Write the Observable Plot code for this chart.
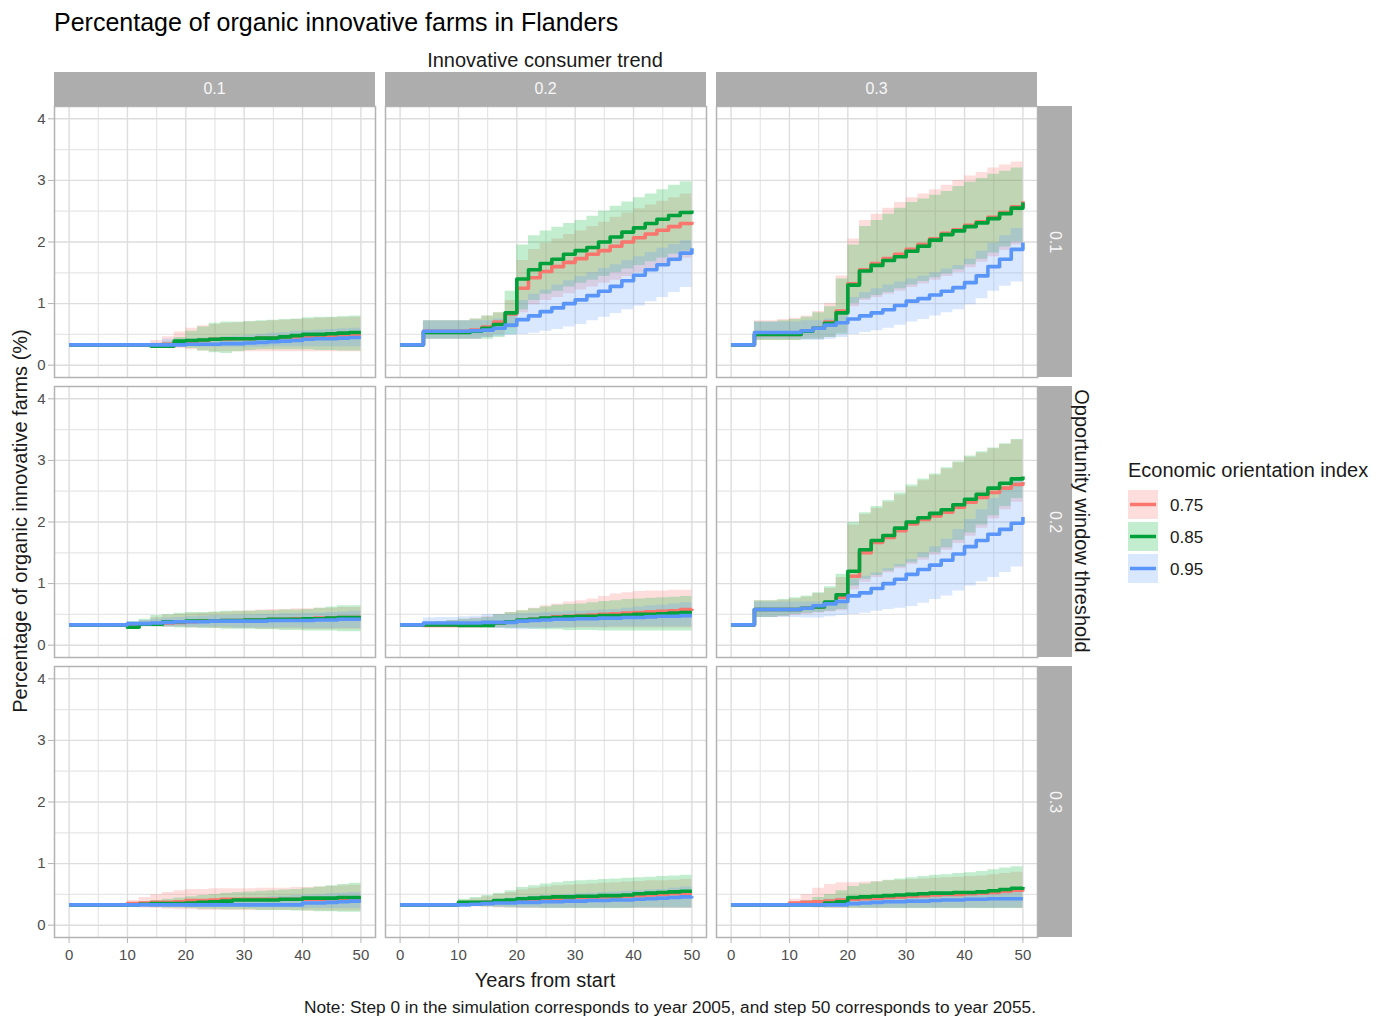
<!DOCTYPE html>
<html><head><meta charset="utf-8">
<script src="https://cdn.jsdelivr.net/npm/d3@7"></script>
<script src="https://cdn.jsdelivr.net/npm/@observablehq/plot@0.6"></script>
<style>
body{margin:0;background:#fff;font-family:"Liberation Sans",Arial,sans-serif;}
#chart{position:relative;width:1390px;height:1021px;overflow:hidden;background:#fff;}
.t{position:absolute;white-space:nowrap;line-height:1;}
.cc{transform:translate(-50%,-50%);}
.lc{transform:translateY(-50%);}
.strip{position:absolute;background:#ADADAD;color:#f7f7f7;font-size:16px;display:flex;align-items:center;justify-content:center;}
.panel{position:absolute;}
</style></head><body><div id="chart"></div>
<script>
// ---------------- data ----------------
const years = [0,2,4,6,8,10,12,14,16,18,20,22,24,26,28,30,32,34,36,38,40,42,44,46,48,50];
const trends = ["0.1","0.2","0.3"];          // Innovative consumer trend (columns)
const thresholds = ["0.1","0.2","0.3"];      // Opportunity window threshold (rows)
const indices = ["0.75","0.85","0.95"];      // Economic orientation index
const lineColors = ["#F8766D","#00A03A","#5A96FA"];
const ribbonColors = ["#F8766D","#00BA38","#619CFF"];
const xTicks = [0,10,20,30,40,50];
const xMinor = [5,15,25,35,45];
const yTicks = [0,1,2,3,4];
const yMinor = [0.5,1.5,2.5,3.5];

// row 1 (threshold 0.1)
const mid_r1c1 = [
 [0.33,0.33,0.33,0.33,0.33,0.33,0.33,0.33,0.34,0.36,0.38,0.40,0.42,0.42,0.43,0.43,0.44,0.44,0.45,0.46,0.47,0.47,0.48,0.49,0.50,0.50],
 [0.33,0.33,0.33,0.33,0.33,0.33,0.33,0.31,0.31,0.39,0.40,0.41,0.42,0.43,0.43,0.43,0.44,0.44,0.46,0.48,0.50,0.50,0.51,0.52,0.53,0.53],
 [0.33,0.33,0.33,0.33,0.33,0.33,0.33,0.33,0.33,0.33,0.34,0.34,0.34,0.35,0.35,0.36,0.37,0.38,0.39,0.40,0.42,0.43,0.43,0.44,0.45,0.45]];
const lo_r1c1 = [
 [0.33,0.33,0.33,0.33,0.33,0.33,0.33,0.30,0.29,0.27,0.25,0.23,0.22,0.22,0.22,0.22,0.22,0.22,0.22,0.22,0.22,0.22,0.22,0.22,0.22,0.22],
 [0.33,0.33,0.33,0.33,0.33,0.33,0.33,0.30,0.30,0.30,0.27,0.23,0.20,0.19,0.22,0.24,0.25,0.25,0.25,0.25,0.25,0.24,0.24,0.23,0.23,0.23],
 [0.33,0.33,0.33,0.33,0.33,0.33,0.33,0.33,0.30,0.30,0.30,0.29,0.29,0.29,0.29,0.29,0.29,0.30,0.30,0.30,0.30,0.30,0.30,0.30,0.30,0.30]];
const hi_r1c1 = [
 [0.33,0.33,0.33,0.33,0.33,0.33,0.33,0.40,0.46,0.54,0.60,0.64,0.66,0.68,0.69,0.70,0.71,0.72,0.73,0.74,0.75,0.76,0.77,0.77,0.78,0.78],
 [0.33,0.33,0.33,0.33,0.33,0.33,0.33,0.33,0.38,0.45,0.55,0.62,0.68,0.70,0.70,0.71,0.72,0.73,0.74,0.75,0.77,0.78,0.78,0.79,0.80,0.80],
 [0.33,0.33,0.33,0.33,0.33,0.33,0.33,0.36,0.42,0.42,0.43,0.44,0.45,0.46,0.47,0.48,0.50,0.52,0.53,0.55,0.56,0.57,0.58,0.59,0.60,0.60]];

const mid_r1c2 = [
 [0.33,0.33,0.55,0.55,0.55,0.55,0.57,0.62,0.70,0.83,1.25,1.42,1.52,1.60,1.67,1.73,1.80,1.86,1.93,2.00,2.07,2.13,2.19,2.25,2.30,2.33],
 [0.33,0.33,0.53,0.53,0.53,0.53,0.55,0.60,0.66,0.85,1.40,1.55,1.65,1.72,1.80,1.86,1.91,2.00,2.08,2.16,2.23,2.30,2.37,2.43,2.48,2.51],
 [0.33,0.33,0.55,0.55,0.55,0.55,0.56,0.57,0.60,0.65,0.74,0.80,0.87,0.93,1.00,1.06,1.13,1.20,1.28,1.37,1.46,1.55,1.63,1.72,1.82,1.90]];
const lo_r1c2 = [
 [0.33,0.33,0.42,0.42,0.42,0.42,0.42,0.45,0.50,0.60,0.85,0.98,1.05,1.10,1.16,1.22,1.27,1.33,1.38,1.44,1.50,1.56,1.62,1.68,1.74,1.78],
 [0.33,0.33,0.42,0.42,0.42,0.42,0.42,0.42,0.45,0.50,0.90,1.05,1.15,1.20,1.27,1.33,1.38,1.44,1.50,1.56,1.62,1.68,1.74,1.80,1.85,1.90],
 [0.33,0.33,0.42,0.42,0.42,0.42,0.42,0.45,0.47,0.48,0.50,0.52,0.55,0.58,0.62,0.66,0.72,0.78,0.84,0.90,0.96,1.03,1.10,1.18,1.26,1.34]];
const hi_r1c2 = [
 [0.33,0.33,0.72,0.72,0.72,0.72,0.75,0.80,0.85,1.05,1.70,1.88,1.98,2.05,2.12,2.18,2.25,2.32,2.40,2.47,2.54,2.60,2.66,2.72,2.78,2.82],
 [0.33,0.33,0.72,0.72,0.72,0.72,0.75,0.80,0.85,1.20,1.95,2.10,2.18,2.24,2.30,2.35,2.42,2.50,2.58,2.65,2.72,2.78,2.85,2.92,2.98,3.02],
 [0.33,0.33,0.72,0.72,0.72,0.72,0.72,0.72,0.75,0.85,1.05,1.15,1.22,1.30,1.37,1.44,1.50,1.57,1.63,1.70,1.76,1.83,1.90,1.96,2.02,2.05]];

const mid_r1c3 = [
 [0.33,0.33,0.50,0.50,0.50,0.50,0.55,0.60,0.70,0.88,1.32,1.55,1.65,1.73,1.80,1.88,1.96,2.05,2.14,2.20,2.27,2.33,2.40,2.48,2.57,2.66],
 [0.33,0.33,0.50,0.50,0.50,0.50,0.55,0.60,0.68,0.85,1.30,1.53,1.62,1.70,1.76,1.85,1.93,2.03,2.12,2.18,2.25,2.31,2.38,2.46,2.55,2.64],
 [0.33,0.33,0.53,0.53,0.53,0.53,0.56,0.60,0.65,0.69,0.75,0.80,0.85,0.90,0.97,1.04,1.08,1.14,1.20,1.26,1.34,1.45,1.60,1.72,1.88,1.99]];
const lo_r1c3 = [
 [0.33,0.33,0.40,0.40,0.40,0.40,0.42,0.42,0.45,0.52,0.95,1.05,1.10,1.15,1.20,1.26,1.32,1.38,1.44,1.50,1.58,1.67,1.76,1.86,1.95,2.00],
 [0.33,0.33,0.40,0.40,0.40,0.40,0.42,0.42,0.45,0.50,1.00,1.08,1.13,1.18,1.24,1.30,1.36,1.42,1.48,1.55,1.63,1.72,1.82,1.92,2.00,2.05],
 [0.33,0.33,0.42,0.42,0.42,0.42,0.40,0.40,0.42,0.45,0.50,0.53,0.56,0.60,0.65,0.70,0.74,0.80,0.85,0.90,0.98,1.08,1.20,1.28,1.35,1.39]];
const hi_r1c3 = [
 [0.33,0.33,0.72,0.72,0.74,0.76,0.80,0.87,1.00,1.45,2.05,2.35,2.45,2.55,2.64,2.72,2.78,2.85,2.92,3.00,3.07,3.13,3.20,3.25,3.30,3.33],
 [0.33,0.33,0.70,0.70,0.72,0.74,0.78,0.85,0.95,1.40,1.95,2.25,2.35,2.45,2.55,2.64,2.70,2.76,2.82,2.90,2.97,3.03,3.10,3.15,3.20,3.23],
 [0.33,0.33,0.70,0.70,0.70,0.70,0.72,0.72,0.75,0.80,1.10,1.18,1.24,1.30,1.35,1.40,1.45,1.50,1.56,1.62,1.72,1.85,1.98,2.10,2.22,2.30]];

// row 2 (threshold 0.2)
const mid_r2c1 = [
 [0.33,0.33,0.33,0.33,0.33,0.33,0.34,0.35,0.36,0.37,0.38,0.39,0.39,0.40,0.40,0.41,0.41,0.42,0.42,0.43,0.43,0.44,0.44,0.45,0.45,0.45],
 [0.33,0.33,0.33,0.33,0.33,0.29,0.34,0.34,0.38,0.38,0.39,0.39,0.39,0.40,0.40,0.41,0.41,0.42,0.42,0.42,0.43,0.43,0.44,0.45,0.45,0.45],
 [0.33,0.33,0.33,0.33,0.33,0.35,0.35,0.36,0.37,0.38,0.38,0.38,0.39,0.39,0.39,0.39,0.39,0.40,0.40,0.40,0.40,0.41,0.41,0.42,0.42,0.42]];
const lo_r2c1 = [
 [0.33,0.33,0.33,0.33,0.33,0.30,0.30,0.30,0.29,0.29,0.28,0.28,0.27,0.27,0.27,0.27,0.26,0.26,0.26,0.26,0.25,0.25,0.25,0.25,0.25,0.25],
 [0.33,0.33,0.33,0.33,0.33,0.28,0.30,0.30,0.29,0.28,0.28,0.27,0.27,0.26,0.26,0.26,0.25,0.25,0.24,0.24,0.23,0.23,0.23,0.22,0.22,0.22],
 [0.33,0.33,0.33,0.33,0.33,0.32,0.31,0.30,0.30,0.30,0.29,0.29,0.29,0.29,0.28,0.28,0.28,0.28,0.28,0.28,0.27,0.27,0.27,0.27,0.27,0.27]];
const hi_r2c1 = [
 [0.33,0.33,0.33,0.33,0.33,0.36,0.40,0.45,0.48,0.50,0.51,0.52,0.53,0.54,0.55,0.56,0.57,0.58,0.58,0.59,0.59,0.60,0.60,0.61,0.61,0.61],
 [0.33,0.33,0.33,0.33,0.33,0.38,0.42,0.48,0.50,0.52,0.53,0.53,0.54,0.55,0.55,0.55,0.56,0.56,0.57,0.57,0.58,0.60,0.62,0.64,0.64,0.64],
 [0.33,0.33,0.33,0.33,0.33,0.38,0.40,0.42,0.44,0.45,0.46,0.47,0.48,0.48,0.49,0.49,0.50,0.50,0.51,0.51,0.52,0.52,0.53,0.54,0.55,0.55]];

const mid_r2c2 = [
 [0.33,0.33,0.32,0.32,0.32,0.32,0.32,0.34,0.36,0.38,0.40,0.42,0.44,0.46,0.47,0.48,0.49,0.50,0.51,0.52,0.53,0.54,0.55,0.56,0.58,0.59],
 [0.33,0.33,0.33,0.33,0.33,0.32,0.32,0.32,0.36,0.38,0.41,0.42,0.44,0.45,0.46,0.47,0.47,0.48,0.48,0.49,0.50,0.50,0.51,0.52,0.53,0.53],
 [0.33,0.33,0.36,0.36,0.36,0.36,0.36,0.37,0.37,0.37,0.39,0.40,0.41,0.42,0.42,0.43,0.43,0.44,0.44,0.45,0.45,0.46,0.47,0.47,0.48,0.48]];
const lo_r2c2 = [
 [0.33,0.33,0.30,0.30,0.30,0.30,0.29,0.28,0.28,0.28,0.28,0.28,0.28,0.28,0.28,0.28,0.28,0.28,0.28,0.28,0.28,0.28,0.28,0.28,0.28,0.28],
 [0.33,0.33,0.30,0.30,0.30,0.30,0.29,0.28,0.28,0.27,0.27,0.26,0.25,0.25,0.24,0.24,0.24,0.23,0.23,0.23,0.23,0.23,0.23,0.23,0.23,0.23],
 [0.33,0.33,0.30,0.30,0.30,0.30,0.30,0.29,0.27,0.26,0.25,0.26,0.27,0.28,0.28,0.29,0.29,0.29,0.30,0.30,0.30,0.30,0.30,0.30,0.30,0.30]];
const hi_r2c2 = [
 [0.33,0.33,0.36,0.38,0.40,0.42,0.44,0.46,0.50,0.53,0.56,0.60,0.64,0.67,0.70,0.72,0.75,0.79,0.83,0.85,0.87,0.88,0.88,0.89,0.89,0.89],
 [0.33,0.33,0.36,0.38,0.40,0.42,0.43,0.45,0.50,0.53,0.56,0.59,0.62,0.65,0.66,0.67,0.69,0.71,0.72,0.74,0.75,0.76,0.77,0.78,0.79,0.80],
 [0.33,0.33,0.44,0.45,0.45,0.46,0.47,0.50,0.50,0.50,0.51,0.52,0.53,0.54,0.55,0.55,0.56,0.57,0.58,0.60,0.62,0.64,0.65,0.67,0.69,0.70]];

const mid_r2c3 = [
 [0.33,0.33,0.58,0.58,0.58,0.58,0.60,0.62,0.68,0.78,1.12,1.50,1.67,1.75,1.86,1.97,2.04,2.10,2.16,2.24,2.32,2.40,2.48,2.55,2.61,2.65],
 [0.33,0.33,0.58,0.58,0.58,0.58,0.60,0.62,0.70,0.82,1.20,1.55,1.70,1.78,1.90,2.00,2.07,2.14,2.20,2.28,2.37,2.45,2.55,2.63,2.70,2.74],
 [0.33,0.33,0.58,0.58,0.58,0.58,0.60,0.64,0.67,0.71,0.80,0.85,0.92,1.00,1.07,1.15,1.23,1.30,1.38,1.48,1.60,1.70,1.80,1.88,1.98,2.08]];
const lo_r2c3 = [
 [0.33,0.33,0.45,0.45,0.46,0.48,0.50,0.52,0.54,0.56,0.90,1.02,1.10,1.17,1.24,1.31,1.38,1.46,1.54,1.65,1.77,1.90,2.05,2.20,2.32,2.42],
 [0.33,0.33,0.45,0.45,0.47,0.50,0.52,0.53,0.55,0.58,0.96,1.07,1.13,1.20,1.27,1.34,1.42,1.50,1.58,1.70,1.82,1.95,2.10,2.25,2.38,2.47],
 [0.33,0.33,0.45,0.45,0.45,0.45,0.44,0.44,0.46,0.48,0.50,0.52,0.55,0.58,0.60,0.63,0.68,0.74,0.80,0.88,0.96,1.03,1.10,1.18,1.27,1.36]];
const hi_r2c3 = [
 [0.33,0.33,0.72,0.72,0.73,0.75,0.78,0.84,0.92,1.10,1.95,2.12,2.22,2.32,2.44,2.57,2.67,2.76,2.86,2.96,3.05,3.12,3.19,3.26,3.33,3.38],
 [0.33,0.33,0.72,0.72,0.74,0.77,0.80,0.85,0.95,1.15,1.99,2.15,2.25,2.35,2.47,2.60,2.70,2.78,2.88,2.98,3.07,3.14,3.20,3.27,3.34,3.39],
 [0.33,0.33,0.70,0.70,0.70,0.70,0.70,0.70,0.72,0.80,1.07,1.12,1.17,1.24,1.31,1.39,1.50,1.60,1.72,1.88,2.04,2.20,2.38,2.55,2.72,2.85]];

// row 3 (threshold 0.3)
const mid_r3c1 = [
 [0.33,0.33,0.33,0.33,0.33,0.35,0.36,0.37,0.37,0.38,0.40,0.40,0.41,0.42,0.42,0.42,0.42,0.42,0.42,0.42,0.42,0.42,0.43,0.43,0.43,0.43],
 [0.33,0.33,0.33,0.33,0.33,0.33,0.34,0.35,0.35,0.35,0.36,0.37,0.38,0.39,0.41,0.41,0.41,0.41,0.42,0.42,0.44,0.44,0.44,0.45,0.45,0.45],
 [0.33,0.33,0.33,0.33,0.33,0.33,0.33,0.33,0.33,0.33,0.33,0.33,0.33,0.33,0.33,0.33,0.33,0.33,0.33,0.33,0.36,0.36,0.37,0.38,0.39,0.39]];
const lo_r3c1 = [
 [0.33,0.33,0.33,0.33,0.33,0.30,0.28,0.27,0.26,0.25,0.25,0.24,0.24,0.24,0.24,0.24,0.24,0.24,0.24,0.24,0.23,0.23,0.23,0.23,0.23,0.23],
 [0.33,0.33,0.33,0.33,0.33,0.31,0.30,0.29,0.28,0.28,0.27,0.26,0.26,0.25,0.25,0.25,0.24,0.24,0.24,0.23,0.23,0.22,0.22,0.21,0.21,0.21],
 [0.33,0.33,0.33,0.33,0.33,0.32,0.31,0.30,0.30,0.30,0.29,0.29,0.29,0.29,0.29,0.28,0.28,0.28,0.28,0.28,0.27,0.27,0.27,0.27,0.27,0.27]];
const hi_r3c1 = [
 [0.33,0.33,0.33,0.33,0.33,0.40,0.45,0.50,0.53,0.56,0.58,0.58,0.59,0.59,0.59,0.59,0.60,0.60,0.60,0.61,0.61,0.62,0.63,0.64,0.65,0.66],
 [0.33,0.33,0.33,0.33,0.33,0.36,0.38,0.40,0.42,0.44,0.46,0.48,0.50,0.52,0.53,0.54,0.55,0.56,0.57,0.58,0.60,0.62,0.64,0.66,0.68,0.69],
 [0.33,0.33,0.33,0.33,0.33,0.34,0.35,0.36,0.37,0.38,0.39,0.40,0.41,0.42,0.43,0.44,0.45,0.46,0.47,0.48,0.49,0.50,0.51,0.52,0.53,0.54]];

const mid_r3c2 = [
 [0.33,0.33,0.33,0.33,0.33,0.35,0.36,0.37,0.38,0.39,0.41,0.42,0.43,0.44,0.44,0.45,0.45,0.46,0.46,0.47,0.48,0.49,0.50,0.51,0.52,0.52],
 [0.33,0.33,0.33,0.33,0.33,0.37,0.37,0.37,0.40,0.41,0.43,0.44,0.45,0.46,0.46,0.47,0.47,0.48,0.48,0.49,0.51,0.52,0.53,0.54,0.55,0.55],
 [0.33,0.33,0.33,0.33,0.33,0.33,0.34,0.35,0.36,0.36,0.37,0.37,0.38,0.38,0.39,0.39,0.40,0.40,0.41,0.41,0.42,0.43,0.44,0.45,0.46,0.47]];
const lo_r3c2 = [
 [0.33,0.33,0.33,0.33,0.33,0.31,0.30,0.29,0.28,0.28,0.27,0.27,0.27,0.27,0.27,0.27,0.27,0.27,0.27,0.27,0.27,0.27,0.27,0.27,0.27,0.27],
 [0.33,0.33,0.33,0.33,0.33,0.32,0.31,0.30,0.29,0.28,0.28,0.28,0.27,0.27,0.27,0.27,0.27,0.27,0.27,0.27,0.28,0.28,0.28,0.28,0.28,0.28],
 [0.33,0.33,0.33,0.33,0.33,0.31,0.30,0.30,0.29,0.29,0.28,0.28,0.28,0.28,0.28,0.28,0.28,0.28,0.28,0.28,0.28,0.28,0.28,0.28,0.28,0.28]];
const hi_r3c2 = [
 [0.33,0.33,0.33,0.33,0.33,0.40,0.43,0.46,0.50,0.53,0.57,0.60,0.62,0.64,0.65,0.66,0.67,0.68,0.69,0.70,0.71,0.72,0.72,0.73,0.74,0.74],
 [0.33,0.33,0.33,0.33,0.33,0.42,0.45,0.48,0.52,0.56,0.61,0.64,0.67,0.69,0.71,0.72,0.73,0.74,0.75,0.76,0.77,0.78,0.79,0.80,0.81,0.82],
 [0.33,0.33,0.33,0.33,0.33,0.36,0.38,0.40,0.42,0.44,0.46,0.47,0.48,0.49,0.50,0.51,0.52,0.53,0.54,0.55,0.56,0.57,0.58,0.60,0.62,0.63]];

const mid_r3c3 = [
 [0.33,0.33,0.33,0.33,0.33,0.36,0.37,0.38,0.39,0.41,0.42,0.43,0.44,0.45,0.46,0.47,0.48,0.49,0.50,0.50,0.51,0.52,0.53,0.55,0.57,0.58],
 [0.33,0.33,0.33,0.33,0.33,0.33,0.33,0.33,0.36,0.38,0.45,0.46,0.47,0.48,0.49,0.50,0.51,0.52,0.52,0.53,0.53,0.54,0.56,0.58,0.60,0.62],
 [0.33,0.33,0.33,0.33,0.33,0.33,0.33,0.33,0.33,0.33,0.35,0.36,0.37,0.38,0.38,0.39,0.39,0.40,0.41,0.41,0.42,0.42,0.43,0.43,0.43,0.43]];
const lo_r3c3 = [
 [0.33,0.33,0.33,0.33,0.33,0.30,0.29,0.28,0.27,0.27,0.27,0.27,0.27,0.27,0.27,0.27,0.27,0.27,0.27,0.27,0.27,0.27,0.27,0.27,0.27,0.27],
 [0.33,0.33,0.33,0.33,0.33,0.31,0.30,0.29,0.28,0.28,0.27,0.27,0.27,0.27,0.27,0.27,0.27,0.27,0.27,0.27,0.27,0.27,0.27,0.27,0.27,0.27],
 [0.33,0.33,0.33,0.33,0.33,0.32,0.31,0.30,0.30,0.29,0.29,0.28,0.28,0.28,0.28,0.28,0.28,0.28,0.28,0.28,0.28,0.28,0.28,0.28,0.28,0.28]];
const hi_r3c3 = [
 [0.33,0.33,0.33,0.33,0.33,0.42,0.50,0.60,0.66,0.69,0.69,0.70,0.71,0.72,0.73,0.74,0.75,0.76,0.77,0.78,0.79,0.80,0.82,0.84,0.86,0.88],
 [0.33,0.33,0.33,0.33,0.33,0.36,0.40,0.45,0.50,0.56,0.63,0.67,0.70,0.73,0.75,0.77,0.79,0.81,0.82,0.84,0.85,0.87,0.90,0.93,0.95,0.96],
 [0.33,0.33,0.33,0.33,0.33,0.35,0.37,0.40,0.42,0.44,0.45,0.46,0.47,0.48,0.49,0.50,0.50,0.51,0.52,0.53,0.53,0.54,0.55,0.56,0.57,0.58]];

const panelData = [
 [[mid_r1c1,lo_r1c1,hi_r1c1],[mid_r1c2,lo_r1c2,hi_r1c2],[mid_r1c3,lo_r1c3,hi_r1c3]],
 [[mid_r2c1,lo_r2c1,hi_r2c1],[mid_r2c2,lo_r2c2,hi_r2c2],[mid_r2c3,lo_r2c3,hi_r2c3]],
 [[mid_r3c1,lo_r3c1,hi_r3c1],[mid_r3c2,lo_r3c2,hi_r3c2],[mid_r3c3,lo_r3c3,hi_r3c3]]
];

// ---------------- layout ----------------
const FONT = '"Liberation Sans", Arial, sans-serif';
const PANEL_W = 321, PANEL_H = 271;
const COL_X = [54, 385, 716];
const ROW_Y = [106, 386, 666];
const chart = document.getElementById("chart");

function addText(txt, x, y, cls, css) {
  const d = document.createElement("div");
  d.className = "t " + cls;
  d.textContent = txt;
  d.style.left = x + "px"; d.style.top = y + "px";
  Object.assign(d.style, css || {});
  chart.appendChild(d);
  return d;
}

function rowsFor(mid, lo, hi) {
  const out = [];
  indices.forEach((idx, k) => {
    if (mid[k].length !== years.length || lo[k].length !== years.length || hi[k].length !== years.length)
      throw new Error("length mismatch");
    years.forEach((x, i) => out.push({x, idx, mid: mid[k][i], lo: lo[k][i], hi: hi[k][i]}));
  });
  return out;
}

for (let r = 0; r < 3; r++) {
  for (let c = 0; c < 3; c++) {
    const [mid, lo, hi] = panelData[r][c];
    const data = rowsFor(mid, lo, hi);
    const ml = c === 0 ? 54 : 0;
    const mb = r === 2 ? 40 : 0;
    const marks = [
      Plot.ruleX(xMinor, {stroke: "#e6e6e6", strokeWidth: 1.2}),
      Plot.ruleY(yMinor, {stroke: "#e6e6e6", strokeWidth: 1.2}),
      Plot.ruleX(xTicks, {stroke: "#dddddd", strokeWidth: 1.4}),
      Plot.ruleY(yTicks, {stroke: "#dddddd", strokeWidth: 1.4})
    ];
    indices.forEach((idx, k) => marks.push(Plot.areaY(data.filter(d => d.idx === idx),
      {x: "x", y1: "lo", y2: "hi", fill: ribbonColors[k], fillOpacity: 0.24, curve: "step-after"})));
    indices.forEach((idx, k) => marks.push(Plot.line(data.filter(d => d.idx === idx),
      {x: "x", y: "mid", stroke: lineColors[k], strokeWidth: 3.6, curve: "step-after", strokeLinecap: "butt"})));
    marks.push(Plot.frame({stroke: "#b3b3b3", strokeWidth: 1.5}));
    if (c === 0) marks.push(Plot.axisY(yTicks, {tickSize: 6, tickPadding: 3, stroke: "#b3b3b3", fill: "#4d4d4d", fontSize: 15, label: null, tickFormat: d3.format("d")}));
    if (r === 2) marks.push(Plot.axisX(xTicks, {tickSize: 6, tickPadding: 6, stroke: "#b3b3b3", fill: "#4d4d4d", fontSize: 15, label: null, tickFormat: d3.format("d")}));
    const svg = Plot.plot({
      width: PANEL_W + ml, height: PANEL_H + mb,
      marginLeft: ml, marginRight: 0, marginTop: 0, marginBottom: mb,
      x: {domain: [-2.5, 52.5], axis: null},
      y: {domain: [-0.2, 4.2], axis: null},
      style: {fontFamily: FONT, background: "transparent", overflow: "visible"},
      marks
    });
    const wrap = document.createElement("div");
    wrap.className = "panel";
    wrap.style.left = (COL_X[c] - ml) + "px";
    wrap.style.top = ROW_Y[r] + "px";
    wrap.appendChild(svg);
    chart.appendChild(wrap);
  }
}

// strips
trends.forEach((t, c) => {
  const s = document.createElement("div");
  s.className = "strip"; s.textContent = t;
  Object.assign(s.style, {left: COL_X[c] + "px", top: "72px", width: PANEL_W + "px", height: "34px"});
  chart.appendChild(s);
});
thresholds.forEach((t, r) => {
  const s = document.createElement("div");
  s.className = "strip";
  Object.assign(s.style, {left: "1038px", top: ROW_Y[r] + "px", width: "34px", height: PANEL_H + "px"});
  const sp = document.createElement("span");
  sp.textContent = t; sp.style.transform = "rotate(90deg)"; sp.style.display = "inline-block";
  s.appendChild(sp);
  chart.appendChild(s);
});

// texts
addText("Percentage of organic innovative farms in Flanders", 54, 22, "lc", {fontSize: "25px", color: "#000"});
addText("Innovative consumer trend", 545, 60, "cc", {fontSize: "20px", color: "#1a1a1a"});
addText("Opportunity window threshold", 1082, 521, "", {fontSize: "20px", color: "#1a1a1a", transform: "translate(-50%,-50%) rotate(90deg)"});
addText("Percentage of organic innovative farms (%)", 20, 521, "", {fontSize: "20px", color: "#1a1a1a", transform: "translate(-50%,-50%) rotate(-90deg)"});
addText("Years from start", 545, 980, "cc", {fontSize: "20px", color: "#1a1a1a"});
addText("Note: Step 0 in the simulation corresponds to year 2005, and step 50 corresponds to year 2055.", 1036, 1008, "", {fontSize: "17.3px", color: "#1a1a1a", transform: "translate(-100%,-50%)"});

// legend
addText("Economic orientation index", 1128, 470, "lc", {fontSize: "20px", color: "#1a1a1a"});
const keyY = [490, 522, 554];
indices.forEach((idx, k) => {
  const ns = "http://www.w3.org/2000/svg";
  const s = document.createElementNS(ns, "svg");
  s.setAttribute("width", 30); s.setAttribute("height", 30);
  s.style.position = "absolute"; s.style.left = "1128px"; s.style.top = keyY[k] + "px";
  const rect = document.createElementNS(ns, "rect");
  rect.setAttribute("width", 30); rect.setAttribute("height", 29);
  rect.setAttribute("fill", ribbonColors[k]); rect.setAttribute("fill-opacity", 0.24);
  const ln = document.createElementNS(ns, "line");
  ln.setAttribute("x1", 2); ln.setAttribute("x2", 28); ln.setAttribute("y1", 14.5); ln.setAttribute("y2", 14.5);
  ln.setAttribute("stroke", lineColors[k]); ln.setAttribute("stroke-width", 3.5);
  s.appendChild(rect); s.appendChild(ln);
  chart.appendChild(s);
  addText(idx, 1170, keyY[k] + 15, "lc", {fontSize: "17px", color: "#1a1a1a"});
});
</script></body></html>
